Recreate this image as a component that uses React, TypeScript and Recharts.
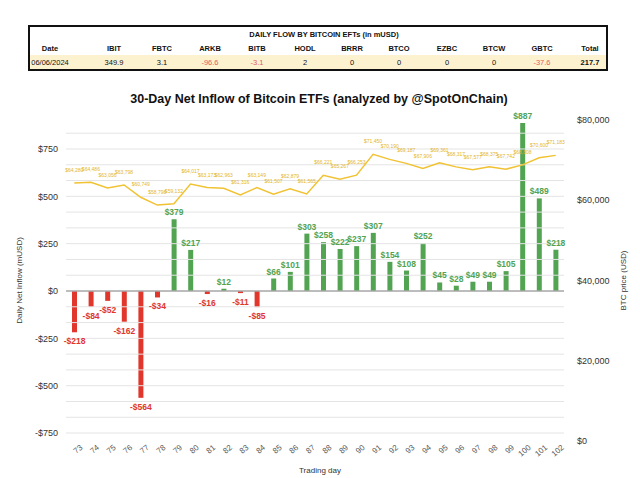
import React from "react";
import {
  Bar,
  Cell,
  ComposedChart,
  LabelList,
  Line,
  ReferenceLine,
  XAxis,
  YAxis,
} from "recharts";

const days = [
  73, 74, 75, 76, 77, 78, 79, 80, 81, 82, 83, 84, 85, 86, 87, 88, 89, 90, 91, 92, 93, 94, 95, 96,
  97, 98, 99, 100, 101, 102,
];
const netFlow = [
  -218, -84, -52, -162, -564, -34, 379, 217, -16, 12, -11, -85, 66, 101, 303, 258, 222, 237, 307,
  154, 108, 252, 45, 28, 49, 49, 105, 887, 489, 218,
];
const btcPrice = [
  64280, 64486, 63056, 63798, 60749, 58798, 59132, 64017, 63173, 62963, 61316, 63149, 61507, 62879,
  61565, 66221, 65267, 66253, 71450, 70190, 69187, 67906, 69361, 68317, 67577, 68375, 67742, 68808,
  70600, 71183,
];

const flowTicks = [-750, -500, -250, 0, 250, 500, 750];
const priceTicks = [0, 20000, 40000, 60000, 80000];

const tableCols = ["Date", "IBIT", "FBTC", "ARKB", "BITB", "HODL", "BRRR", "BTCO", "EZBC", "BTCW", "GBTC", "Total"];
const tableVals = ["06/06/2024", "349.9", "3.1", "-96.6", "-3.1", "2", "0", "0", "0", "0", "-37.6", "217.7"];
const tableX = [50, 114, 162, 210, 257, 305, 352, 399, 447, 494, 542, 590];

const GREEN = "#52a352";
const RED = "#e0362c";
const GOLD = "#f1c232";

// minor grid lines, 3 per major step
const gridVals: number[] = [];
for (let k = 0; k <= 19; k++) gridVals.push(-750 + (k * 250) / 3);

const rows = days.map((d, i) => ({ day: d, flow: netFlow[i], price: btcPrice[i] }));

const money = (v: number) => (v < 0 ? `-$${Math.abs(v)}` : `$${v}`);

function FlowLabel(props: any) {
  const { x, y, width, height, value } = props;
  const top = Math.min(y, y + height);
  const bottom = Math.max(y, y + height);
  const cx = x + width / 2;
  const neg = value < 0;
  return (
    <text
      x={cx}
      y={neg ? bottom + 12 : top - 4}
      textAnchor="middle"
      fontSize={8.5}
      fontWeight="bold"
      fill={neg ? RED : GREEN}
    >
      {money(value)}
    </text>
  );
}

function PriceLabel(props: any) {
  const { x, y, value } = props;
  return (
    <text x={x} y={y - 11} textAnchor="middle" fontSize={5} fill="#e3b52a">
      {"$" + Number(value).toLocaleString("en-US")}
    </text>
  );
}

function DayTick(props: any) {
  const { x, y, payload } = props;
  return (
    <text
      x={x}
      y={y}
      textAnchor="end"
      fontSize={8}
      fill="#555"
      transform={`rotate(-40 ${x} ${y})`}
      dx={4}
      dy={9}
    >
      {payload.value}
    </text>
  );
}

export default function App() {
  return (
    <div
      style={{
        position: "absolute",
        left: 0,
        top: 0,
        width: 640,
        height: 478,
        background: "#fff",
        fontFamily: "Arial, 'Liberation Sans', sans-serif",
      }}
    >
      <ComposedChart width={640} height={478} data={rows} margin={{ top: 120, right: 0, bottom: 0, left: 0 }}>
        {gridVals.map((v) => (
          <ReferenceLine key={v} yAxisId="flow" y={v} stroke="#e4e4e4" strokeWidth={1} />
        ))}
        <XAxis
          dataKey="day"
          height={37}
          axisLine={false}
          tickLine={false}
          tickSize={0}
          tickMargin={3}
          interval={0}
          tick={<DayTick />}
        />
        <YAxis
          yAxisId="flow"
          width={66}
          domain={[-792, 903]}
          allowDataOverflow
          ticks={flowTicks}
          tickFormatter={(v: number) => money(v)}
          axisLine={false}
          tickLine={false}
          tickSize={0}
          tickMargin={8}
          tick={{ fontSize: 9, fill: "#333" }}
          label={{
            value: "Daily Net Inflow (mUSD)",
            angle: -90,
            position: "insideLeft",
            offset: 19,
            style: { fontSize: 8, fill: "#333", textAnchor: "middle" },
          }}
        />
        <YAxis
          yAxisId="price"
          orientation="right"
          width={76}
          domain={[0, 80000]}
          ticks={priceTicks}
          tickFormatter={(v: number) => "$" + v.toLocaleString("en-US")}
          axisLine={false}
          tickLine={false}
          tickSize={0}
          tickMargin={13}
          tick={{ fontSize: 9, fill: "#333", textAnchor: "start" }}
          label={{
            value: "BTC price (USD)",
            angle: -90,
            position: "insideRight",
            offset: 17,
            style: { fontSize: 8, fill: "#333", textAnchor: "middle" },
          }}
        />
        <ReferenceLine yAxisId="flow" y={0} stroke="#888" strokeWidth={1.2} />
        <Bar yAxisId="flow" dataKey="flow" barSize={5} isAnimationActive={false}>
          {rows.map((r) => (
            <Cell key={r.day} fill={r.flow < 0 ? RED : GREEN} />
          ))}
          <LabelList dataKey="flow" content={<FlowLabel />} />
        </Bar>
        <Line
          yAxisId="price"
          dataKey="price"
          type="linear"
          stroke={GOLD}
          strokeWidth={1.5}
          dot={false}
          isAnimationActive={false}
        >
          <LabelList dataKey="price" content={<PriceLabel />} />
        </Line>
      </ComposedChart>

      <svg
        width={640}
        height={478}
        style={{ position: "absolute", left: 0, top: 0, pointerEvents: "none" }}
        fontFamily="Arial, 'Liberation Sans', sans-serif"
      >
        <rect x={29} y={55} width={578} height={14} fill="#fdf2d0" />
        <rect x={29} y={26} width={578} height={44} fill="none" stroke="#111" strokeWidth={2} />
        <text x={324} y={37} textAnchor="middle" fontSize={7.5} fontWeight="bold" fill="#111">
          DAILY FLOW BY BITCOIN EFTs (in mUSD)
        </text>
        {tableCols.map((c, i) => (
          <text key={c} x={tableX[i]} y={51} textAnchor="middle" fontSize={7.5} fontWeight="bold" fill="#111">
            {c}
          </text>
        ))}
        {tableVals.map((v, i) => (
          <text
            key={i}
            x={tableX[i]}
            y={65}
            textAnchor="middle"
            fontSize={7.5}
            fontWeight={i === tableVals.length - 1 ? "bold" : "normal"}
            fill={v.startsWith("-") ? "#e06060" : "#111"}
          >
            {v}
          </text>
        ))}
        <text x={319} y={103} textAnchor="middle" fontSize={12.5} fontWeight="bold" fill="#111">
          30-Day Net Inflow of Bitcoin ETFs (analyzed by @SpotOnChain)
        </text>
        <text x={320} y={473} textAnchor="middle" fontSize={8} fill="#333">
          Trading day
        </text>
      </svg>
    </div>
  );
}
